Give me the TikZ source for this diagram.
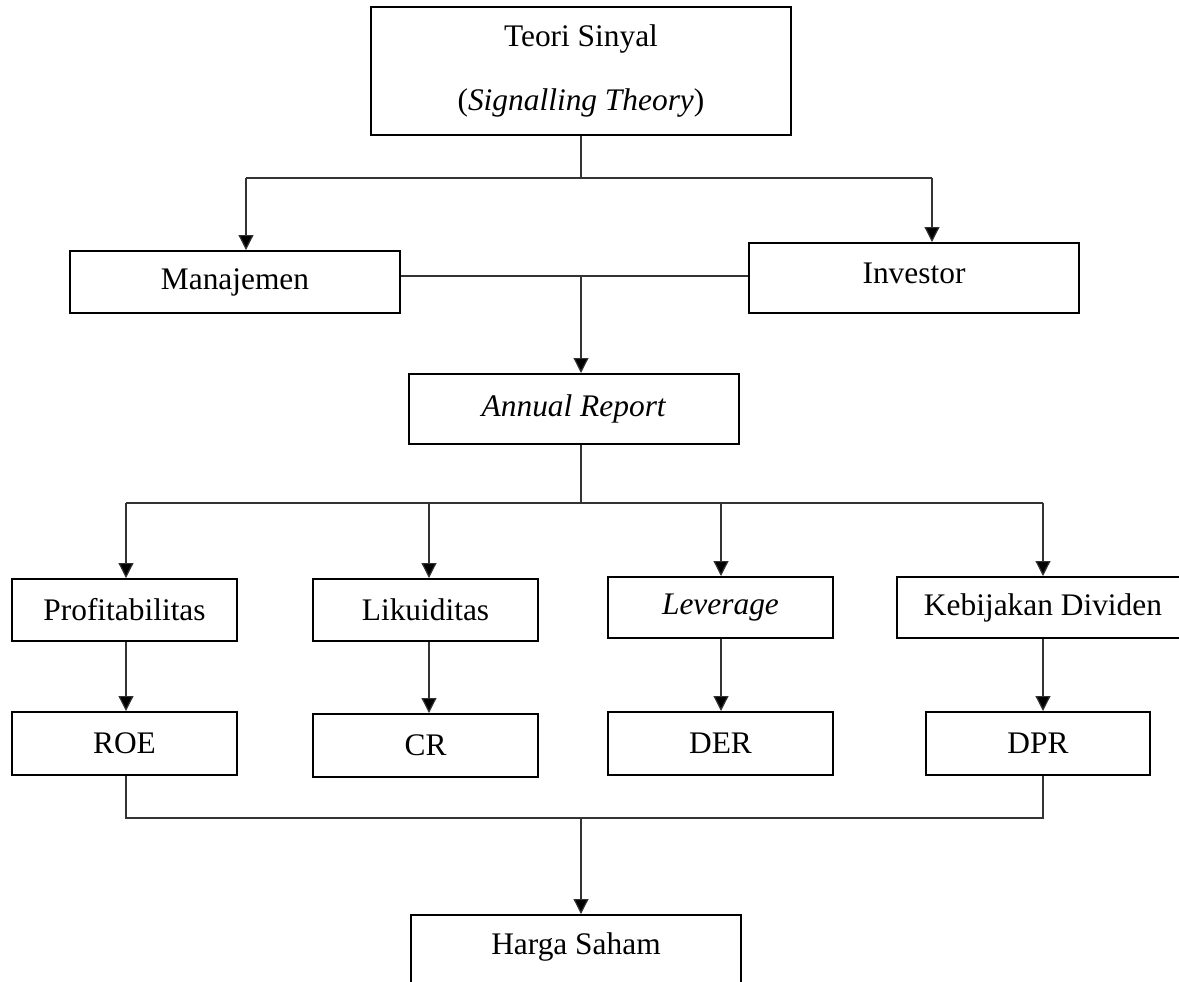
\documentclass[tikz,border=0pt]{standalone}
\usepackage{fontspec}
\setmainfont{Liberation Serif}
\usetikzlibrary{arrows.meta,positioning,calc}

\begin{document}
\begin{tikzpicture}[
    x=0.5pt, y=-0.5pt,
    box/.style={rectangle, draw, line width=1pt, minimum width=165pt, minimum height=31pt, inner sep=0pt, align=center, font=\fontsize{15.7}{32}\selectfont},
    smallbox/.style={box, minimum width=112.5pt},
    line/.style={draw=black!80, line width=0.6pt},
    arrow/.style={line, -{Triangle[length=7.5pt, width=7.5pt, fill=black]}}
]
\useasboundingbox (0,0) rectangle (1179,981);

% boxes
\node[box, minimum width=210pt, minimum height=64pt] (teori) at (581,71) {Teori Sinyal\\(\textit{Signalling Theory})};
\node[box] (manajemen) at (235,282) {Manajemen};
\node[box, minimum height=35pt, text depth=5pt] (investor) at (914,278) {Investor};
\node[box, minimum height=35pt] (annual) at (574,409) {\textit{Annual Report}};

\node[smallbox] (profit) at (124.5,610) {Profitabilitas};
\node[smallbox] (likuid) at (425.5,610) {Likuiditas};
\node[smallbox, minimum height=30.5pt] (leverage) at (720.5,607.5) {\textit{Leverage}};
\node[smallbox, minimum width=146pt, minimum height=30.5pt] (kebijakan) at (1043,607.5) {Kebijakan Dividen};

\node[smallbox, minimum height=31.5pt] (roe) at (124.5,743.5) {ROE};
\node[smallbox, minimum height=31.5pt] (cr) at (425.5,745.5) {CR};
\node[smallbox, minimum height=31.5pt] (der) at (720.5,743.5) {DER};
\node[smallbox, minimum width=112pt, minimum height=31.5pt] (dpr) at (1038,743.5) {DPR};

\node[box, anchor=north, text height=19.75pt, text depth=20pt] (harga) at (576,914) {Harga Saham};

% teori -> manajemen, investor
\coordinate (topsplit) at (581,178);
\coordinate (dropleft) at (246,178);
\coordinate (dropright) at (932,178);
\draw[line] (teori.south) -- (topsplit);
\draw[line] (dropleft) -- (dropright);
\draw[arrow] (dropleft) -- (dropleft |- manajemen.north);
\draw[arrow] (dropright) -- (dropright |- investor.north);

% manajemen, investor -> annual report
\coordinate (mid) at (581,276);
\draw[line] (mid -| manajemen.east) -- (mid -| investor.west);
\draw[arrow] (mid) -- (mid |- annual.north);

% annual report -> variabel
\coordinate (arsplit) at (581,503);
\draw[line] (annual.south -| arsplit) -- (arsplit);
\foreach \up/\low/\x in {profit/roe/126, likuid/cr/429, leverage/der/721, kebijakan/dpr/1043}{
  \coordinate (drop-\up) at (\x,503);
  \draw[arrow] (drop-\up) -- (drop-\up |- \up.north);
  \draw[arrow] (\up.south -| drop-\up) -- (drop-\up |- \low.north);
}
\draw[line] (drop-profit) -- (drop-kebijakan);

% proksi -> harga saham
\coordinate (join) at (581,818);
\draw[line] (roe.south -| drop-profit) -- (drop-profit |- join) -- (drop-kebijakan |- join) -- (dpr.south -| drop-kebijakan);
\draw[arrow] (join) -- (join |- harga.north);
\end{tikzpicture}
\end{document}
